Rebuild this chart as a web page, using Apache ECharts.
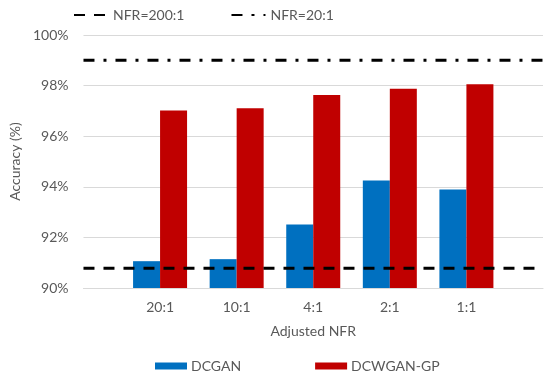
<!DOCTYPE html>
<html>
<head>
<meta charset="utf-8">
<script src="https://cdn.jsdelivr.net/npm/echarts@6/dist/echarts.min.js"></script>
<style>html,body{margin:0;padding:0;background:#fff}#c{width:550px;height:376px}</style>
</head>
<body>
<div id="c"></div>
<script>
var categories = ['', '20:1', '10:1', '4:1', '2:1', '1:1', ''];
var dcgan = [null, 91.06, 91.14, 92.51, 94.25, 93.89, null];
var dcwgan = [null, 97.02, 97.10, 97.63, 97.88, 98.05, null];
var nfr200 = [90.78, 90.78, 90.78, 90.78, 90.78, 90.78, 90.78];
var nfr20 = [99.0, 99.0, 99.0, 99.0, 99.0, 99.0, 99.0];
var yTicks = [90, 92, 94, 96, 98, 100];

var FONT = 'Lato';
var GRAY = '#595959';
var FS = 14;
var chart = echarts.init(document.getElementById('c'), null, {renderer: 'canvas'});
chart.setOption({
  animation: false,
  textStyle: {fontFamily: FONT, color: GRAY},
  grid: {left: 75, right: 7, top: 35, bottom: 88, containLabel: false},
  legend: [{
    data: ['NFR=200:1', 'NFR=20:1'],
    top: 3, left: 68,
    itemWidth: 34, itemHeight: 12, itemGap: 46,
    itemStyle: {color: 'rgba(0,0,0,0)', borderWidth: 0},
    textStyle: {fontFamily: FONT, fontSize: FS, color: GRAY}
  }, {
    data: ['DCGAN', 'DCWGAN-GP'],
    top: 354, left: 150,
    icon: 'rect',
    itemWidth: 32, itemHeight: 7, itemGap: 74,
    textStyle: {fontFamily: FONT, fontSize: FS, color: GRAY, padding: [0,0,0,-1]}
  }],
  xAxis: {
    type: 'category',
    data: categories,
    boundaryGap: false,
    axisLine: {show: true, lineStyle: {color: '#d9d9d9', width: 1}},
    axisTick: {show: false},
    axisLabel: {color: GRAY, fontSize: FS, fontFamily: FONT, margin: 12, interval: 0},
    splitLine: {show: false},
    name: 'Adjusted NFR',
    nameLocation: 'middle',
    nameGap: 36,
    nameTextStyle: {color: GRAY, fontSize: FS, fontFamily: FONT}
  },
  yAxis: {
    type: 'value',
    min: yTicks[0], max: yTicks[yTicks.length - 1], interval: 2,
    axisLine: {show: false},
    axisTick: {show: false},
    axisLabel: {color: GRAY, fontSize: FS, fontFamily: FONT, margin: 15, formatter: '{value}%'},
    splitLine: {lineStyle: {color: '#d9d9d9', width: 1}},
    name: 'Accuracy (%)',
    nameLocation: 'middle',
    nameGap: 54,
    nameTextStyle: {color: GRAY, fontSize: FS, fontFamily: FONT}
  },
  series: [{
    name: 'DCGAN', type: 'bar', data: dcgan,
    barWidth: 27, barGap: '0%',
    itemStyle: {color: '#0070C0'}
  }, {
    name: 'DCWGAN-GP', type: 'bar', data: dcwgan,
    barWidth: 27, barGap: '0%',
    itemStyle: {color: '#C00000'}
  }, {
    name: 'NFR=200:1', type: 'line', data: nfr200,
    symbol: 'none', z: 5,
    lineStyle: {color: '#000', width: 3, type: [11, 9], cap: 'butt'},
    itemStyle: {color: '#000'}
  }, {
    name: 'NFR=20:1', type: 'line', data: nfr20,
    symbol: 'none', z: 5,
    lineStyle: {color: '#000', width: 3, type: [11, 9, 3, 9], cap: 'butt'},
    itemStyle: {color: '#000'}
  }]
});
</script>
</body>
</html>
